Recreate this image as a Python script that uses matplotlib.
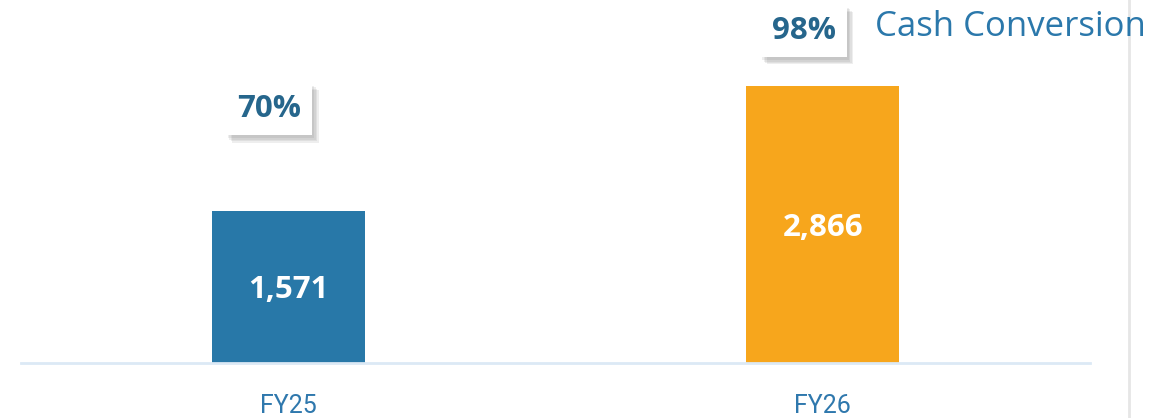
import matplotlib
matplotlib.use("Agg")
import matplotlib.pyplot as plt
from matplotlib import patheffects as pe

categories = ["FY25", "FY26"]
values = [1571, 2866]
value_labels = ["1,571", "2,866"]
conversion = [70, 98]
conversion_labels = ["70%", "98%"]
series_name = "Cash Conversion"

bar_colors = ["#2878A8", "#F7A61C"]
pct_color = "#26668C"
tick_color = "#2F78AD"

W, H = 1165, 418
fig = plt.figure(figsize=(W / 100, H / 100), dpi=100)
ax = fig.add_axes([21 / W, (H - 362.5) / H, 1069 / W, 362.5 / H])

x = list(range(len(categories)))
ax.bar(x, values, width=0.286, color=bar_colors, zorder=2)
ax.set_xlim(-0.5, 1.5)
ax.set_ylim(0, 3758)
for xi, v, lab in zip(x, values, value_labels):
    ax.text(xi, v / 2, lab, ha="center", va="center_baseline", color="white",
            fontsize=22.5, fontweight="bold", family="Open Sans", zorder=3)

for s in ["top", "right", "left"]:
    ax.spines[s].set_visible(False)
ax.spines["bottom"].set_color("#DCE9F5")
ax.spines["bottom"].set_linewidth(2)
ax.set_yticks([])
ax.set_xticks(x)
ax.set_xticklabels(categories, color=tick_color, fontsize=18, family="Roboto")
ax.tick_params(axis="x", length=0, pad=23)

ax2 = ax.twinx()
ax2.set_ylim(-22.3, 107.7)
ax2.axis("off")
shadow = [pe.withSimplePatchShadow(offset=(d, -d - 1), shadow_rgbFace="#777777", alpha=0.12)
          for d in (1.5, 2.5, 3.5, 4.5)]
for xi, p, lab in zip(x, conversion, conversion_labels):
    t = ax2.text(xi - 0.036, p, lab, ha="center", va="center_baseline", color=pct_color,
                 fontsize=22.5, fontweight="bold", family="Open Sans", zorder=4,
                 bbox=dict(boxstyle="square,pad=0.36", fc="white", ec="none"))
    t.get_bbox_patch().set_path_effects(shadow + [pe.Normal()])

fig.text(875 / W, 1 - 27 / H, series_name, ha="left", va="center",
         color="#2B78AB", fontsize=25, family="Open Sans")

fig.add_artist(plt.Line2D([1129 / W, 1129 / W], [0, 1], color="#E6E6E6", lw=2,
                          transform=fig.transFigure))

fig.savefig("out.png", dpi=100)
